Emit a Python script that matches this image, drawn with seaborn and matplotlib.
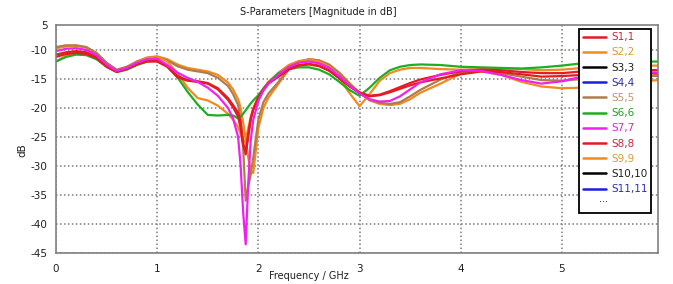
import numpy as np
import pandas as pd
import matplotlib
matplotlib.use("Agg")
import matplotlib.pyplot as plt
from matplotlib.lines import Line2D
import seaborn as sns

# frequency grid (GHz) shared by all traces
freq = [0.0, 0.1, 0.2, 0.3, 0.4, 0.5, 0.6, 0.7, 0.8, 0.9,
        1.0, 1.1, 1.2, 1.3, 1.4, 1.5, 1.6, 1.7, 1.75, 1.8,
        1.825, 1.85, 1.875, 1.9, 1.925, 1.95, 2.0, 2.05, 2.1, 2.2,
        2.3, 2.4, 2.5, 2.6, 2.7, 2.8, 2.9, 3.0, 3.1, 3.2,
        3.3, 3.4, 3.5, 3.6, 3.8, 4.0, 4.2, 4.4, 4.6, 4.8,
        5.0, 5.2, 5.4, 5.6, 5.8, 5.95]

s11 = [-10.8, -10.4, -10.2, -10.4, -11.2, -12.7, -13.7, -13.2, -12.4, -11.9,
       -11.9, -12.8, -14.5, -15.2, -15.4, -15.7, -16.6, -18.3, -19.5, -20.8,
       -22.5, -26.0, -28.0, -25.0, -22.0, -20.3, -18.3, -16.9, -15.8, -14.6,
       -13.4, -12.7, -12.5, -12.8, -13.6, -14.9, -16.3, -17.4, -18.0, -17.8,
       -17.3, -16.7, -16.1, -15.6, -14.9, -14.2, -13.7, -13.8, -14.2, -14.6,
       -14.5, -14.3, -14.1, -14.0, -14.0, -14.1]
s22 = [-9.7, -9.4, -9.3, -9.6, -10.6, -12.3, -13.5, -13.0, -12.0, -11.3,
       -11.1, -11.6, -12.5, -13.1, -13.4, -13.7, -14.3, -15.6, -16.8, -18.5,
       -20.0, -22.5, -25.5, -28.5, -31.0, -31.2, -23.5, -20.0, -18.2, -15.8,
       -13.4, -12.1, -11.6, -11.8, -12.5, -13.9, -15.7, -17.4, -18.7, -19.3,
       -19.5, -19.3, -18.5, -17.4, -15.8, -14.1, -13.7, -14.3, -15.5, -16.3,
       -16.6, -16.5, -16.2, -15.8, -15.4, -15.2]
s55 = [-9.5, -9.2, -9.2, -9.5, -10.5, -12.2, -13.4, -12.9, -12.0, -11.4,
       -11.2, -11.8, -12.8, -13.4, -13.7, -14.0, -14.8, -16.2, -17.6, -19.5,
       -22.0, -27.0, -36.0, -33.5, -31.5, -28.5, -22.0, -19.0, -17.5, -15.5,
       -13.3, -12.0, -11.6, -11.8, -12.6, -14.0, -15.8, -17.4, -18.6, -19.1,
       -19.3, -19.0, -18.0, -16.9, -15.1, -13.9, -13.6, -14.0, -14.6, -15.2,
       -15.3, -15.0, -14.8, -14.6, -14.5, -14.5]
s66 = [-12.0, -11.2, -10.8, -10.9, -11.6, -12.9, -13.8, -13.4, -12.6, -12.0,
       -11.7, -12.8, -14.7, -17.2, -19.4, -21.2, -21.3, -21.2, -21.3, -21.8,
       -21.5, -21.0, -20.4, -19.8, -19.2, -18.7, -17.8, -16.7, -15.6, -14.0,
       -13.3, -13.0, -13.0, -13.4, -14.2, -15.5, -16.9, -17.9, -16.5, -14.8,
       -13.5, -12.9, -12.6, -12.5, -12.6, -12.9, -13.0, -13.1, -13.2, -13.0,
       -12.7, -12.3, -12.1, -12.0, -12.0, -12.0]
s77 = [-10.2, -9.8, -9.7, -10.0, -10.9, -12.5, -13.6, -13.1, -12.2, -11.6,
       -11.5, -12.6, -13.9, -14.8, -15.5, -16.5, -17.9, -20.0, -21.8, -25.0,
       -30.0, -38.0, -43.5, -33.0, -25.5, -22.0, -18.8, -17.0, -15.8, -14.3,
       -12.9, -12.2, -12.0, -12.3, -13.1, -14.5, -16.1, -17.5, -18.5, -18.9,
       -18.8, -18.0, -16.8, -15.6, -14.2, -13.5, -13.6, -14.3, -15.2, -15.8,
       -15.4, -14.6, -14.1, -13.9, -13.8, -13.9]
s88 = [-11.2, -10.7, -10.5, -10.7, -11.4, -12.9, -13.8, -13.3, -12.5, -12.0,
       -12.0, -12.9, -14.7, -15.3, -15.5, -15.8, -16.8, -18.6, -19.9, -21.5,
       -23.5, -26.5, -27.5, -24.5, -21.8, -20.2, -18.2, -16.8, -15.7, -14.5,
       -13.3, -12.6, -12.4, -12.7, -13.5, -14.8, -16.2, -17.3, -17.9, -17.7,
       -17.1, -16.4, -15.7, -15.1, -14.3, -13.7, -13.4, -13.5, -13.8, -14.0,
       -14.0, -13.7, -13.5, -13.4, -13.4, -13.5]
s99 = [-12.0, -11.0, -10.5, -10.6, -11.3, -12.7, -13.6, -13.1, -12.1, -11.4,
       -11.2, -12.0, -14.0, -16.5, -18.3, -18.7, -19.6, -21.0, -22.0, -23.3,
       -24.5, -26.0, -25.5, -23.5, -21.5, -20.0, -18.0, -16.6, -15.5, -13.9,
       -12.6, -11.9, -11.7, -12.0, -12.9, -14.8, -17.4, -19.7, -17.6, -15.3,
       -14.0, -13.4, -13.1, -13.1, -13.3, -13.4, -13.3, -13.2, -13.3, -13.5,
       -13.4, -13.1, -12.9, -12.8, -12.7, -12.7]

legend_labels = ["S1,1", "S2,2", "S3,3", "S4,4", "S5,5", "S6,6",
                 "S7,7", "S8,8", "S9,9", "S10,10", "S11,11"]
line_colors = ["#e31b23", "#f28a1e", "#000000", "#1c1ce0", "#b07c4c", "#1fae1f",
               "#f020f0", "#e31b23", "#f28a1e", "#000000", "#1c1ce0"]
text_colors = ["#c8283c", "#d89a3c", "#202020", "#2c2cb8", "#b8966a", "#24a024",
               "#d028d0", "#c8283c", "#d89a3c", "#202020", "#2c2cb8"]

yticks = [-45, -40, -35, -30, -25, -20, -15, -10, -5.7]
ytick_labels = ["-45", "-40", "-35", "-30", "-25", "-20", "-15", "-10", "5"]
xticks = [0, 1, 2, 3, 4, 5]

# visible traces, in drawing order
traces = {"S2,2": s22, "S5,5": s55, "S9,9": s99, "S6,6": s66,
          "S1,1": s11, "S8,8": s88, "S7,7": s77}
df = pd.concat([pd.DataFrame({"freq": freq, "db": v, "param": k})
                for k, v in traces.items()], ignore_index=True)
palette = {lab: col for lab, col in zip(legend_labels, line_colors)}

sns.set_theme(style="white")
plt.rcParams["font.family"] = ["DejaVu Sans"]

fig = plt.figure(figsize=(6.73, 2.84), dpi=100)
ax = fig.add_axes([56 / 673, 31 / 284, 602 / 673, 228 / 284])

sns.lineplot(data=df, x="freq", y="db", hue="param", hue_order=list(traces.keys()),
             palette=palette, sort=False, estimator=None, linewidth=1.6,
             legend=False, ax=ax)

ax.set_xlim(0, 5.95)
ax.set_ylim(-45, -5.7)
ax.set_xticks(xticks)
ax.set_yticks(yticks)
ax.set_yticklabels(ytick_labels)
ax.set_xlabel("")
ax.set_ylabel("")
ax.tick_params(axis="both", direction="out", length=4, width=1, color="#808080",
               labelsize=7.5, pad=2, labelcolor="#202020")
ax.tick_params(axis="x", pad=4)
for sp in ax.spines.values():
    sp.set_color("#808080")
    sp.set_linewidth(1.2)
ax.grid(True, linestyle=(0, (1, 1.6)), color="#7a7a7a", linewidth=1.1)
# no grid line on the top border
ax.yaxis.get_gridlines()[-1].set_visible(False)

handles = [Line2D([0], [0], color=c, lw=1.8) for c in line_colors]
# blank last row leaves room for the "..." marker
handles.append(Line2D([0], [0], color="none", lw=0))
leg = ax.legend(handles, legend_labels + [" "], loc="upper right",
                bbox_to_anchor=(0.988, 0.982), borderaxespad=0, fontsize=7.5,
                labelspacing=0.5, handlelength=2.3, handletextpad=0.45,
                borderpad=0.3, fancybox=False, framealpha=1, edgecolor="black")
leg.get_frame().set_linewidth(1.3)
for t, c in zip(leg.get_texts(), text_colors):
    t.set_color(c)
ax.text(0.909, 0.235, "...", transform=ax.transAxes, fontsize=7,
        ha="center", va="center", color="#202020", zorder=10)

fig.text(318 / 673, 1 - 12 / 284, "S-Parameters [Magnitude in dB]", fontsize=7,
         ha="center", va="center", color="#202020")
fig.text(309 / 673, 1 - 276 / 284, "Frequency / GHz", fontsize=7,
         ha="center", va="center", color="#202020")
fig.text(22 / 673, 1 - 150 / 284, "dB", fontsize=7.5, rotation=90,
         ha="center", va="center", color="#202020")

fig.savefig("out.png", dpi=100)
